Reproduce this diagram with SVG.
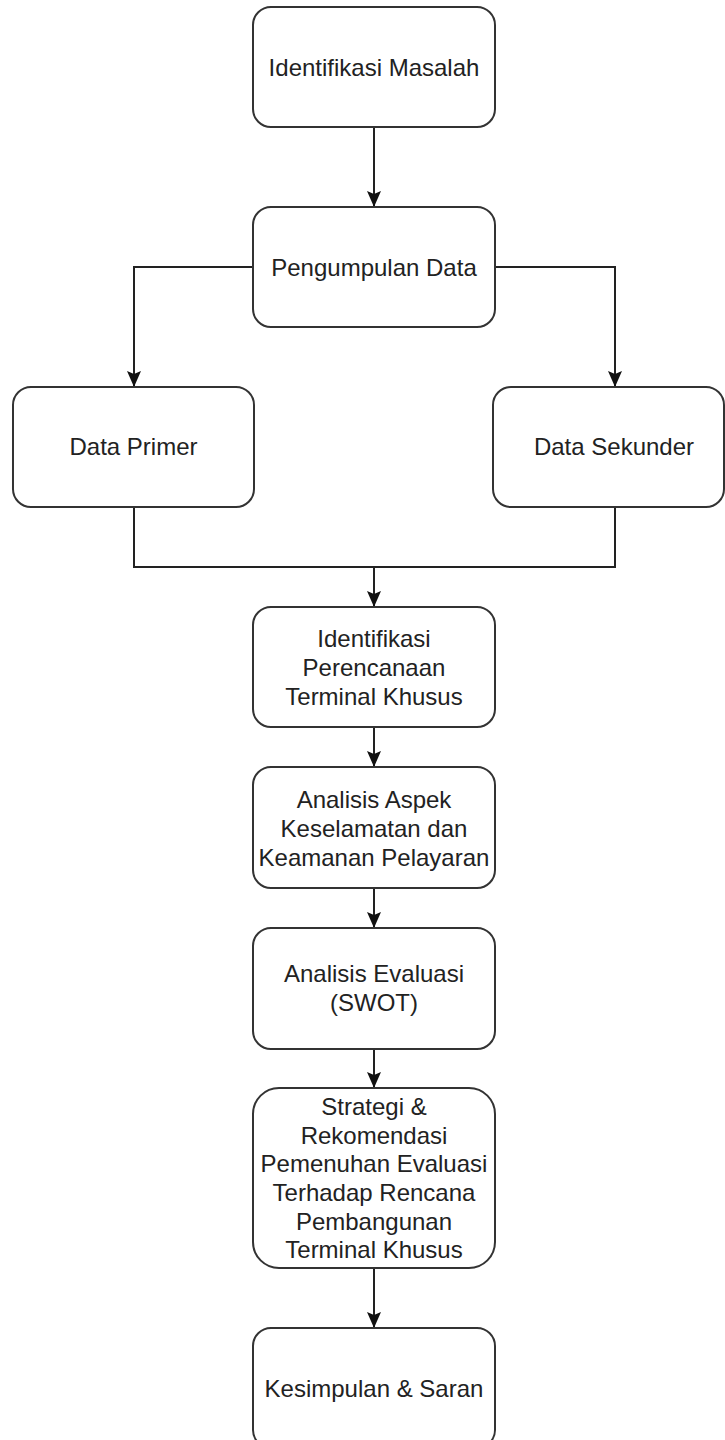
<svg xmlns="http://www.w3.org/2000/svg" width="725" height="1440" viewBox="0 0 725 1440">
  <style>
    .box { fill: #ffffff; stroke: #333333; stroke-width: 2; }
    .lbl { font-family: "Liberation Sans", Arial, Helvetica, sans-serif; font-size: 24px; fill: #222222; text-anchor: middle; }
    .edge { fill: none; stroke: #222222; stroke-width: 2; }
  </style>
  <defs>
    <marker id="arrow" viewBox="0 0 16 16" refX="15" refY="8" markerWidth="16" markerHeight="16" markerUnits="userSpaceOnUse" orient="auto">
      <path d="M0,1 L16,8 L0,15 L3,8 Z" fill="#111111"/>
    </marker>
  </defs>
  <rect width="725" height="1440" fill="#ffffff"/>

  <!-- connectors -->
  <g id="connectors">
    <path class="edge" d="M374,127 L374,206" marker-end="url(#arrow)"/>
    <path class="edge" d="M253,267 L134,267 L134,386" marker-end="url(#arrow)"/>
    <path class="edge" d="M495,267 L615,267 L615,386" marker-end="url(#arrow)"/>
    <path class="edge" d="M134,507 L134,567 L615,567 L615,507"/>
    <path class="edge" d="M374,567 L374,606" marker-end="url(#arrow)"/>
    <path class="edge" d="M374,727 L374,766" marker-end="url(#arrow)"/>
    <path class="edge" d="M374,888 L374,927" marker-end="url(#arrow)"/>
    <path class="edge" d="M374,1049 L374,1087" marker-end="url(#arrow)"/>
    <path class="edge" d="M374,1268 L374,1327" marker-end="url(#arrow)"/>
  </g>

  <g id="identifikasi-masalah">
    <rect class="box" x="253" y="7" width="242" height="120" rx="18"/>
    <text class="lbl" x="374" y="75.5">Identifikasi Masalah</text>
  </g>

  <g id="pengumpulan-data">
    <rect class="box" x="253" y="207" width="242" height="120" rx="18"/>
    <text class="lbl" x="374" y="275.5">Pengumpulan Data</text>
  </g>

  <g id="data-primer">
    <rect class="box" x="13" y="387" width="241" height="120" rx="18"/>
    <text class="lbl" x="133.5" y="455">Data Primer</text>
  </g>

  <g id="data-sekunder">
    <rect class="box" x="493" y="387" width="231" height="120" rx="18"/>
    <text class="lbl" x="614" y="455">Data Sekunder</text>
  </g>

  <g id="identifikasi-perencanaan">
    <rect class="box" x="253" y="607" width="242" height="120" rx="18"/>
    <text class="lbl" x="374" y="646.5">Identifikasi</text>
    <text class="lbl" x="374" y="675.5">Perencanaan</text>
    <text class="lbl" x="374" y="704.5">Terminal Khusus</text>
  </g>

  <g id="analisis-aspek">
    <rect class="box" x="253" y="767" width="242" height="121" rx="18"/>
    <text class="lbl" x="374" y="808">Analisis Aspek</text>
    <text class="lbl" x="374" y="837">Keselamatan dan</text>
    <text class="lbl" x="374" y="866">Keamanan Pelayaran</text>
  </g>

  <g id="analisis-evaluasi">
    <rect class="box" x="253" y="928" width="242" height="121" rx="18"/>
    <text class="lbl" x="374" y="982">Analisis Evaluasi</text>
    <text class="lbl" x="374" y="1011">(SWOT)</text>
  </g>

  <g id="strategi-rekomendasi">
    <rect class="box" x="253" y="1088" width="242" height="180" rx="26"/>
    <text class="lbl" x="374" y="1115">Strategi &amp;</text>
    <text class="lbl" x="374" y="1144">Rekomendasi</text>
    <text class="lbl" x="374" y="1172">Pemenuhan Evaluasi</text>
    <text class="lbl" x="374" y="1201">Terhadap Rencana</text>
    <text class="lbl" x="374" y="1230">Pembangunan</text>
    <text class="lbl" x="374" y="1258">Terminal Khusus</text>
  </g>

  <g id="kesimpulan-saran">
    <rect class="box" x="253" y="1328" width="242" height="120" rx="18"/>
    <text class="lbl" x="374" y="1396.5">Kesimpulan &amp; Saran</text>
  </g>
</svg>
